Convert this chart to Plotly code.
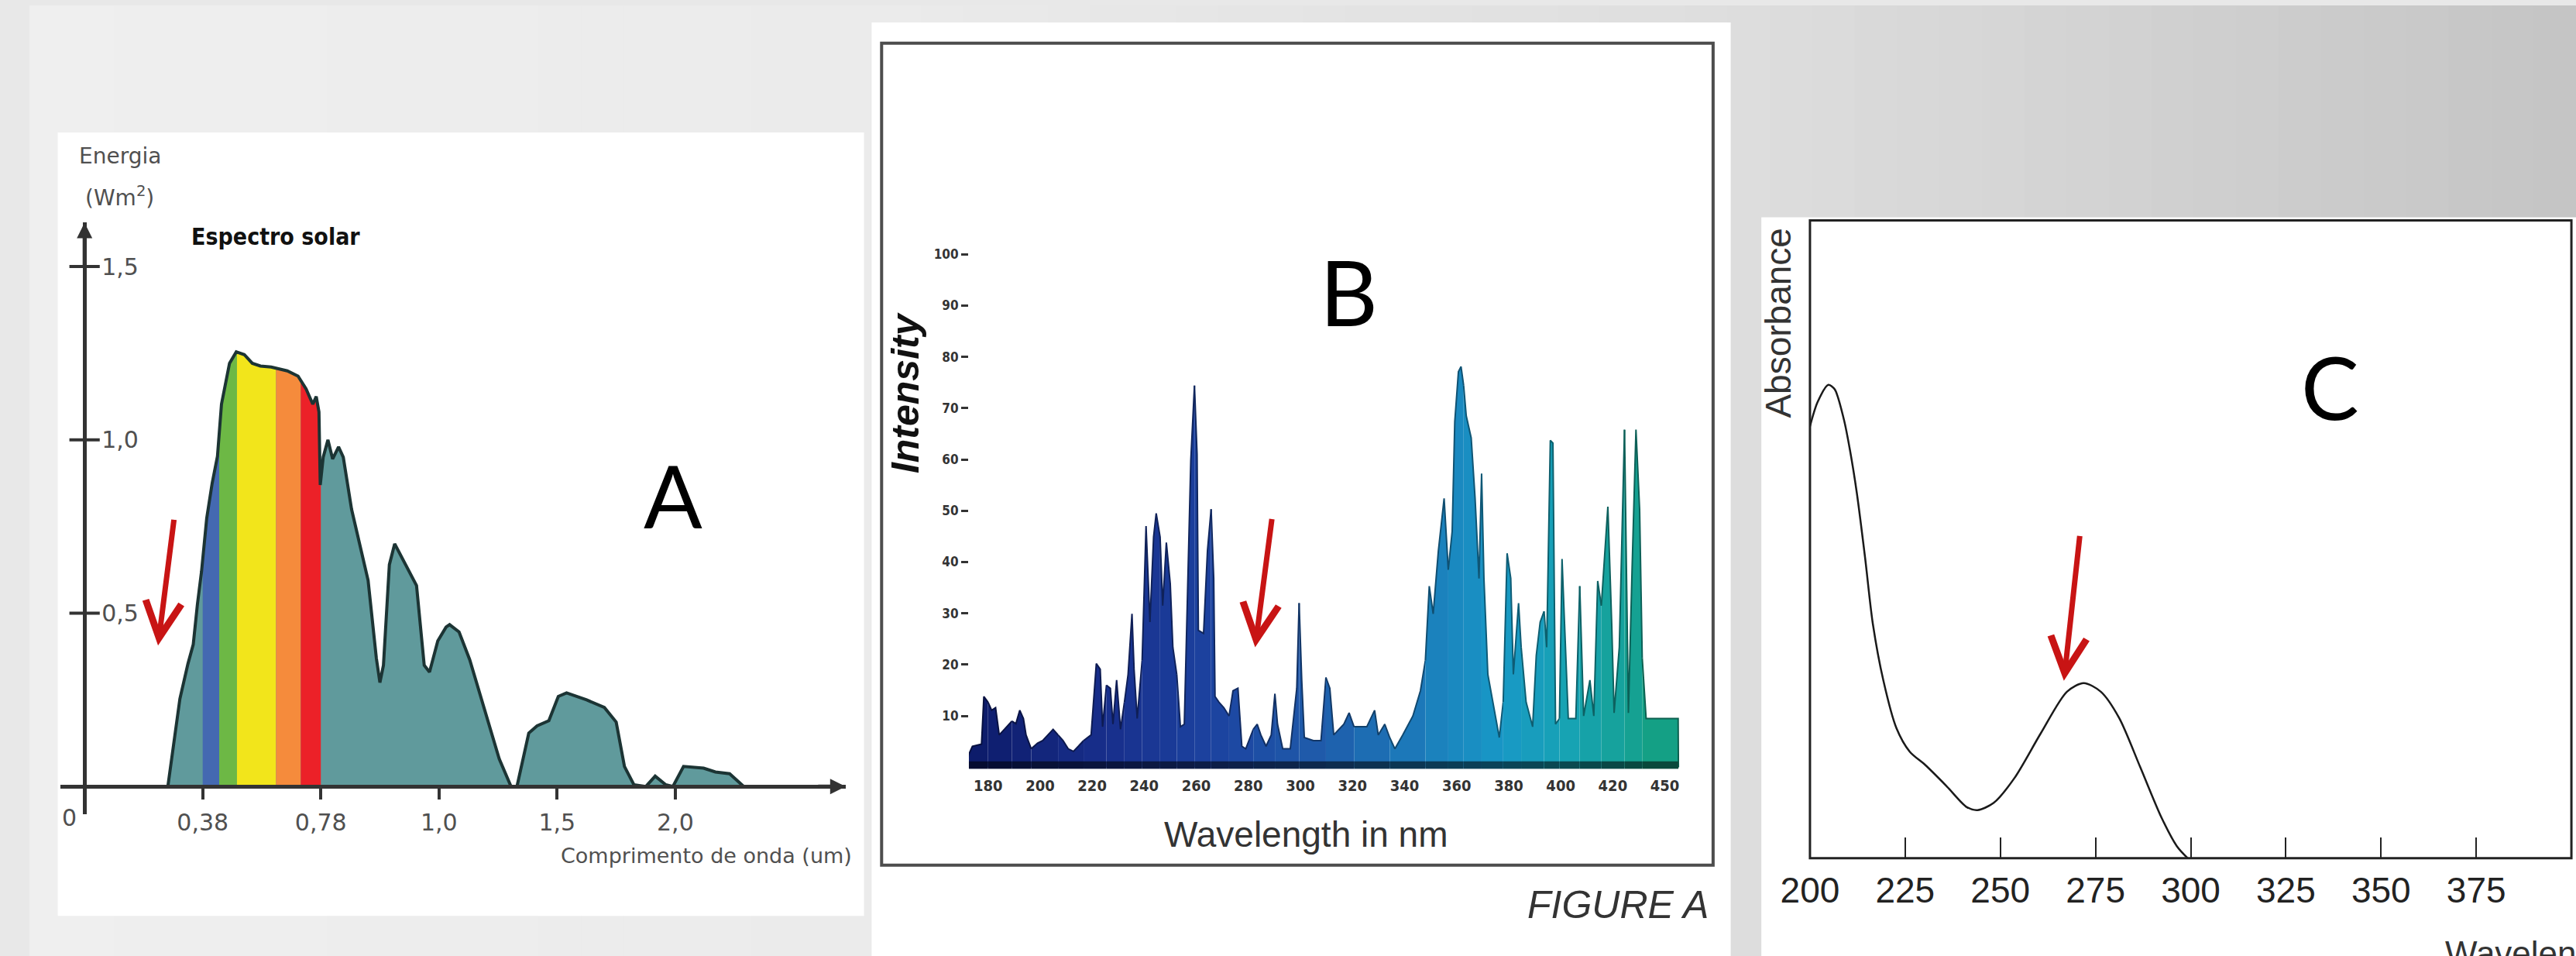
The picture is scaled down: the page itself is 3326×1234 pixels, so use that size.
import numpy as np
import plotly.graph_objects as go
import plotly.colors as pc

W, H = 3326, 1234

# ---------------- Panel A: solar spectrum (x in equally spaced tick slots) ----------------
a_tick_pos = [1, 2, 3, 4, 5]
a_tick_labels = ['0,38', '0,78', '1,0', '1,5', '2,0']
a_y_ticks = [0.5, 1.0, 1.5]
a_y_labels = ['0,5', '1,0', '1,5']
a_x = [0.705, 0.761, 0.807, 0.875, 0.92, 0.955, 0.99, 1.034, 1.08, 1.125,
       1.159, 1.227, 1.284, 1.352, 1.42, 1.489, 1.58, 1.716, 1.807, 1.875,
       1.932, 1.961, 1.984, 1.995, 2.02, 2.06, 2.10, 2.15, 2.19, 2.26,
       2.33, 2.40, 2.47, 2.50, 2.53, 2.58, 2.625, 2.72, 2.81, 2.875,
       2.92, 2.99, 3.06, 3.09, 3.17, 3.26, 3.43, 3.51, 3.61, 3.66,
       3.76, 3.83, 3.93, 4.01, 4.08, 4.25, 4.40, 4.50, 4.57, 4.65,
       4.75, 4.83, 4.92, 4.98, 5.07, 5.24, 5.34, 5.46, 5.58]
a_e = [0.0, 0.136, 0.253, 0.354, 0.41, 0.525, 0.62, 0.774, 0.875, 0.953,
       1.103, 1.221, 1.254, 1.246, 1.221, 1.213, 1.21, 1.199, 1.184, 1.147,
       1.103, 1.125, 1.081, 0.87, 0.95, 1.0, 0.945, 0.98, 0.95, 0.80,
       0.70, 0.595, 0.37, 0.30, 0.35, 0.64, 0.70, 0.64, 0.58, 0.35,
       0.33, 0.42, 0.46, 0.467, 0.446, 0.366, 0.175, 0.08, 0.0, 0.0,
       0.154, 0.175, 0.19, 0.26, 0.27, 0.25, 0.228, 0.186, 0.058, 0.005,
       0.0, 0.03, 0.005, 0.0, 0.058, 0.053, 0.042, 0.037, 0.0]
a_band_edges = [1.0, 1.14, 1.29, 1.62, 1.83, 2.0]
a_band_colors = ['#4469b1', '#6db845', '#f2e51b', '#f58b3c', '#ec2128']

# ---------------- Panel B: lamp emission spectrum ----------------
b_tick_vals = [180, 200, 220, 240, 260, 280, 300, 320, 340, 360, 380, 400, 420, 440]
b_tick_text = ['180', '200', '220', '240', '260', '280', '300', '320', '340', '360', '380', '400', '420', '450']
b_y_ticks = [10, 20, 30, 40, 50, 60, 70, 80, 90, 100]
b_wl = [171.0, 172.6, 174.0, 177.5, 178.4, 180.0, 181.4, 182.9, 184.3, 186.3,
        189.2, 190.7, 192.2, 193.6, 194.6, 196.6, 199.0, 201.0, 203.0, 205.0,
        206.9, 208.8, 210.8, 212.8, 214.7, 216.7, 219.6, 221.6, 223.1, 224.0,
        225.5, 227.0, 228.0, 229.4, 230.9, 232.4, 233.8, 235.3, 236.1, 237.3,
        239.2, 240.7, 242.2, 243.6, 244.6, 246.1, 247.1, 248.5, 250.0, 251.0,
        252.5, 253.9, 255.4, 256.9, 257.9, 259.3, 260.3, 260.8, 262.8, 264.3,
        265.7, 266.7, 267.2, 268.7, 270.6, 272.6, 274.1, 276.0, 277.5, 279.0,
        281.9, 283.4, 284.8, 286.8, 288.8, 290.2, 291.2, 293.2, 296.1, 298.6,
        299.5, 300.5, 301.5, 305.0, 307.9, 309.8, 311.3, 312.8, 316.7, 318.7,
        320.6, 325.5, 328.5, 329.9, 332.4, 334.3, 336.3, 339.3, 343.2, 346.1,
        348.0, 349.5, 351.0, 353.0, 355.2, 356.8, 358.3, 359.3, 360.7, 361.7,
        362.7, 363.7, 365.6, 367.1, 368.6, 369.6, 370.5, 372.0, 374.0, 376.4,
        377.9, 379.4, 380.8, 381.8, 383.8, 384.8, 386.7, 389.2, 390.6, 392.1,
        393.6, 394.6, 396.0, 397.0, 398.0, 399.5, 400.5, 401.4, 402.9, 405.8,
        407.3, 408.8, 411.2, 412.7, 414.2, 415.6, 418.1, 419.6, 420.5, 422.5,
        424.5, 426.0, 427.4, 428.9, 430.3, 431.3, 432.8, 445.1, 445.2]
b_int = [0, 2.5, 4.1, 4.5, 13.8, 12.7, 11.1, 11.6, 6.3, 7.4,
         9.0, 8.5, 11.1, 9.5, 6.3, 3.6, 4.7, 5.2, 6.3, 7.4,
         6.3, 5.2, 3.6, 3.1, 4.1, 5.2, 6.3, 20.2, 19.1, 7.9,
         16.0, 15.4, 8.4, 17.0, 7.4, 12.7, 18.1, 29.9, 19.1, 9.5,
         20.8, 47.0, 28.3, 44.9, 49.5, 44.9, 31.5, 43.8, 35.8, 23.4,
         18.1, 7.9, 8.4, 40.6, 59.9, 74.4, 61.0, 26.7, 26.1, 42.2,
         50.3, 36.8, 13.8, 12.7, 11.6, 10.0, 14.9, 15.4, 4.1, 3.6,
         7.4, 8.4, 6.3, 4.1, 6.3, 14.3, 8.4, 3.6, 3.6, 15.4,
         32.0, 17.0, 5.8, 5.2, 5.2, 17.5, 15.4, 6.3, 8.4, 10.6,
         7.9, 7.9, 11.1, 6.3, 8.4, 5.8, 3.6, 6.3, 10.0, 14.9,
         20.8, 35.3, 29.9, 42.2, 52.4, 38.5, 46.0, 67.4, 77.1, 78.1,
         74.4, 68.5, 64.2, 52.4, 36.8, 57.2, 36.8, 18.1, 12.7, 5.8,
         12.7, 41.7, 36.8, 18.1, 32.0, 23.4, 12.7, 7.9, 21.8, 28.3,
         30.4, 23.4, 63.7, 63.2, 8.4, 9.5, 40.6, 28.8, 9.5, 9.5,
         35.3, 10.0, 17.0, 10.0, 36.3, 31.5, 50.8, 27.7, 10.6, 23.4,
         65.8, 10.6, 38.5, 65.8, 50.3, 21.3, 9.5, 9.5, 0]
b_colorscale = [[0.0, '#0c1a68'], [0.2, '#182f8c'], [0.35, '#1c43a0'], [0.5, '#1f5cab'],
                [0.65, '#1b7fbc'], [0.75, '#1898c6'], [0.85, '#17a3b2'], [1.0, '#14a07c']]

# ---------------- Panel C: absorbance spectrum ----------------
c_tick_vals = [200, 225, 250, 275, 300, 325, 350, 375, 400]
c_nm = [200, 202, 204.8, 206.5, 208.9, 210.5, 212.3, 214.5, 216.5, 219.3,
        222.7, 226.2, 230.3, 235.8, 241.2, 244.0, 248.2, 253.7, 260.6, 267.5,
        271.9, 276.4, 281.2, 286.8, 292.3, 296.4, 299.2]
c_abs = [0.677, 0.715, 0.742, 0.735, 0.688, 0.64, 0.573, 0.47, 0.368, 0.278,
         0.204, 0.167, 0.146, 0.1135, 0.080, 0.0754, 0.0864, 0.1255, 0.1955, 0.261,
         0.2745, 0.261, 0.22, 0.142, 0.064, 0.0185, 0.0]


def px(x):
    return x / W


def py(y):
    return 1 - y / H


fig = go.Figure()

# ---------- Panel A traces ----------
fig.add_trace(go.Scatter(x=a_x, y=a_e, mode='lines', fill='tozeroy', fillcolor='#609a9c',
                         line=dict(width=0), xaxis='x', yaxis='y', hoverinfo='skip'))
for k, col in enumerate(a_band_colors):
    e0, e1 = a_band_edges[k], a_band_edges[k + 1]
    xs = [e0] + [v for v in a_x if e0 < v < e1] + [e1]
    ys = list(np.interp(xs, a_x, a_e))
    fig.add_trace(go.Scatter(x=xs, y=ys, mode='lines', fill='tozeroy', fillcolor=col,
                             line=dict(width=0), xaxis='x', yaxis='y', hoverinfo='skip'))
fig.add_trace(go.Scatter(x=a_x, y=a_e, mode='lines', line=dict(color='#1c3434', width=4),
                         xaxis='x', yaxis='y', hoverinfo='skip'))
fig.add_trace(go.Scatter(x=[0] * len(a_y_ticks), y=a_y_ticks, mode='markers',
                         marker=dict(symbol='line-ew', size=28, line=dict(width=4, color='#333')),
                         xaxis='x', yaxis='y', hoverinfo='skip'))

# ---------- Panel B traces ----------
def darken(c, f):
    r, g, b = [float(v) for v in c[c.index('(') + 1:-1].split(',')]
    return 'rgb(%d,%d,%d)' % (r * f, g * f, b * f)


n = len(b_wl)
lo, hi = b_wl[0], b_wl[-1]
i = 0
while i < n - 1:
    j = min(i + 5, n - 1)
    xs = b_wl[i:j + 1]
    ys = b_int[i:j + 1]
    t = (np.mean(xs) - lo) / (hi - lo)
    col = pc.sample_colorscale(b_colorscale, [t])[0]
    fig.add_trace(go.Scatter(x=xs, y=ys, mode='lines', fill='tozeroy', fillcolor=col,
                             line=dict(color=darken(col, 0.6), width=2),
                             xaxis='x2', yaxis='y2', hoverinfo='skip'))
    fig.add_trace(go.Scatter(x=[xs[0], xs[-1]], y=[0.4, 0.4], mode='lines',
                             line=dict(color=darken(col, 0.45), width=10),
                             xaxis='x2', yaxis='y2', hoverinfo='skip'))
    i = j

# ---------- Panel C traces ----------
fig.add_trace(go.Scatter(x=c_nm, y=c_abs, mode='lines',
                         line=dict(color='#1a1a1a', width=2.5, shape='spline', smoothing=0.8),
                         xaxis='x3', yaxis='y3', hoverinfo='skip'))

# ---------- Background and cards ----------
shapes = []
grey = [[0.0, '#efefef'], [0.33, '#ebebeb'], [0.68, '#dddddd'], [1.0, '#c4c4c4']]
NS = 60
for k in range(NS):
    c = pc.sample_colorscale(grey, [(k + 0.5) / NS])[0]
    shapes.append(dict(type='rect', xref='paper', yref='paper', x0=k / NS, x1=(k + 1) / NS + 0.001,
                       y0=0, y1=1, fillcolor=c, line=dict(width=0), layer='below'))
for (x0, y0, x1, y1) in [(37, 165, 1090, 1182), (1100, 22, 2222, 1234), (2262, 275, 3326, 1234)]:
    shapes.append(dict(type='rect', xref='paper', yref='paper', x0=px(x0), x1=px(x1), y0=py(y1), y1=py(y0),
                       fillcolor='white', line=dict(width=0), layer='below'))
# frame B
shapes.append(dict(type='rect', xref='paper', yref='paper', x0=px(1113), x1=px(2199), y0=py(1116), y1=py(49),
                   line=dict(color='#4d4d4d', width=4)))
# frame C
shapes.append(dict(type='rect', xref='paper', yref='paper', x0=px(2325.5), x1=px(3320), y0=py(1107), y1=py(279),
                   line=dict(color='#222', width=3)))

# ---------- Annotations ----------
A_FONT = 'DejaVu Sans'
grey_txt = '#505050'
ann = []


def text(x, y, s, size, color='#222', family='Liberation Sans', xanchor='center', yanchor='middle', angle=0):
    ann.append(dict(x=px(x), y=py(y), xref='paper', yref='paper', text=s, showarrow=False,
                    xanchor=xanchor, yanchor=yanchor, textangle=angle,
                    font=dict(family=family, size=size, color=color)))


# Panel A
text(118, 196, 'Energia', 28, grey_txt, A_FONT)
text(118, 248, '(Wm<sup>2</sup>)', 28, grey_txt, A_FONT)
text(322, 300, '<b>Espectro solar</b>', 30, '#111', 'DejaVu Sans Condensed, DejaVu Sans')
text(841, 635, 'A', 112, '#000', 'Lato')
text(1076, 1104, 'Comprimento de onda (um)', 27, grey_txt, A_FONT, xanchor='right')
ann.append(dict(x=0, y=0, xref='x', yref='y', text='0', showarrow=False, xshift=-20, yshift=-40,
                font=dict(family=A_FONT, size=30, color=grey_txt)))
# axis arrows A
ann.append(dict(x=0, y=1.6267, ax=0, ay=1.5, xref='x', yref='y', axref='x', ayref='y', text='',
                showarrow=True, arrowhead=2, arrowsize=0.8, arrowwidth=5, arrowcolor='#333'))
ann.append(dict(x=6.442, y=0, ax=6.2, ay=0, xref='x', yref='y', axref='x', ayref='y', text='',
                showarrow=True, arrowhead=2, arrowsize=0.8, arrowwidth=5, arrowcolor='#333'))
# red arrows
RED = '#c81414'
ann.append(dict(x=0.622, y=0.407, ax=0.758, ay=0.773, xref='x', yref='y', axref='x', ayref='y', text='',
                showarrow=True, arrowhead=5, arrowsize=1.3, arrowwidth=7, arrowcolor=RED))
ann.append(dict(x=282.6, y=23.4, ax=289.1, ay=48.6, xref='x2', yref='y2', axref='x2', ayref='y2', text='',
                showarrow=True, arrowhead=5, arrowsize=1.3, arrowwidth=7, arrowcolor=RED))
ann.append(dict(x=266.7, y=0.278, ax=270.9, ay=0.507, xref='x3', yref='y3', axref='x3', ayref='y3', text='',
                showarrow=True, arrowhead=5, arrowsize=1.3, arrowwidth=7, arrowcolor=RED))

# Panel B
text(1723, 372, 'B', 116, '#000', 'Lato')
text(1144, 503, '<b><i>Intensity</i></b>', 50, '#111', 'Liberation Sans', angle=-90)
text(1667, 1076, 'Wavelength in nm', 46, '#333')
text(2075, 1168, '<i>FIGURE A</i>', 50, '#333')

# Panel C
text(3005, 494, 'C', 112, '#000', 'Lato')
text(2284, 412, 'Absorbance', 46, '#333', angle=-90)
text(3153, 1204, 'Wavelength (nm)', 44, '#333', xanchor='left', yanchor='top')

fig.update_layout(
    width=W, height=H, margin=dict(l=0, r=0, t=0, b=0),
    paper_bgcolor='#e8e8e8', plot_bgcolor='rgba(0,0,0,0)', showlegend=False,
    shapes=shapes, annotations=ann,
    xaxis=dict(domain=[px(40), px(1066)], range=[-0.2074, 6.442], anchor='free', position=py(1014),
               showline=True, linewidth=5, linecolor='#333', ticks='outside', ticklen=14, tickwidth=4,
               tickcolor='#333', tickvals=a_tick_pos, ticktext=a_tick_labels, ticklabelstandoff=4,
               tickfont=dict(family=A_FONT, size=30, color=grey_txt), showgrid=False, zeroline=False),
    yaxis=dict(domain=[py(1050), py(282)], range=[-0.08, 1.6267], anchor='free', position=px(72),
               showline=True, linewidth=5, linecolor='#333', ticks='', tickvals=a_y_ticks, ticktext=a_y_labels,
               ticklabelposition='inside', ticklabelstandoff=22,
               tickfont=dict(family=A_FONT, size=30, color=grey_txt), showgrid=False, zeroline=False),
    xaxis2=dict(domain=[px(1227), px(2160)], range=[172.65, 447.06], anchor='y2', showline=False, ticks='',
                tickvals=b_tick_vals, ticktext=b_tick_text, ticklabelstandoff=8,
                tickfont=dict(family='DejaVu Sans Condensed, DejaVu Sans', size=20, color='#333', weight='bold'),
                showgrid=False, zeroline=False),
    yaxis2=dict(domain=[py(991), py(320)], range=[-0.3, 100.45], anchor='x2', showline=False, ticks='outside',
                ticklen=9, tickwidth=3, tickcolor='#333', tickvals=b_y_ticks,
                tickfont=dict(family='DejaVu Sans Condensed, DejaVu Sans', size=17, color='#333', weight='bold'),
                showgrid=False, zeroline=False),
    xaxis3=dict(domain=[px(2325.5), px(3320)], range=[200, 400], anchor='y3', showline=False, ticks='inside',
                ticklen=27, tickwidth=2, tickcolor='#222', tickvals=c_tick_vals, ticklabelstandoff=10,
                tickfont=dict(family='Liberation Sans Narrow, Arial Narrow, Liberation Sans', size=46, color='#222'),
                showgrid=False, zeroline=False),
    yaxis3=dict(domain=[py(1107), py(279)], range=[0, 1], anchor='x3', visible=False),
)

fig.write_html("out.html", config={'displayModeBar': False},
               post_script="document.body.style.margin='0';document.body.style.overflow='hidden';")
